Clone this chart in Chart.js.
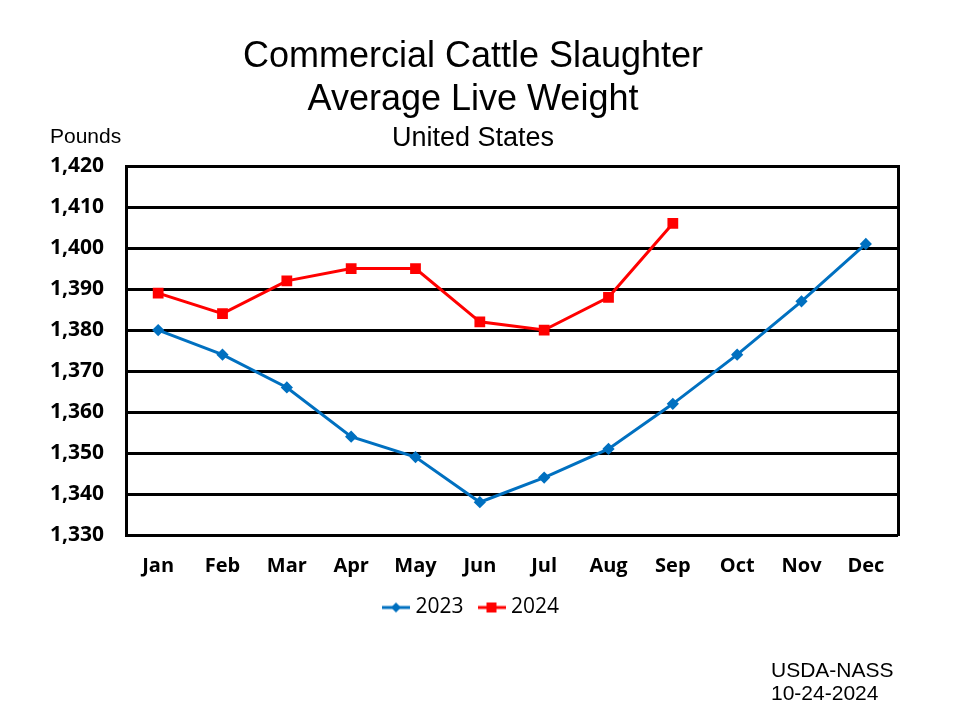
<!DOCTYPE html>
<html>
<head>
<meta charset="utf-8">
<script src="https://cdn.jsdelivr.net/npm/chart.js@4"></script>
<style>
  html, body { margin: 0; padding: 0; background: #fff; }
  #wrap { width: 960px; height: 720px; }
</style>
</head>
<body>
<div id="wrap"><canvas id="myChart" width="960" height="720"></canvas></div>
<script>
const months = ['Jan', 'Feb', 'Mar', 'Apr', 'May', 'Jun', 'Jul', 'Aug', 'Sep', 'Oct', 'Nov', 'Dec'];
const weights2023 = [1380, 1374, 1366, 1354, 1349, 1338, 1344, 1351, 1362, 1374, 1387, 1401];
const weights2024 = [1389, 1384, 1392, 1395, 1395, 1382, 1380, 1388, 1406];
const yMin = 1330;
const yMax = 1420;
const yStep = 10;

const blue = '#0070C0';
const red = '#FF0000';

// Маленькая картинка для легенды: линия с маркером посередине.
function legendIcon(color, marker) {
    const c = document.createElement('canvas');
    c.width = 28;
    c.height = 14;
    const g = c.getContext('2d');
    g.strokeStyle = color;
    g.lineWidth = 3;
    g.beginPath();
    g.moveTo(0, 7);
    g.lineTo(28, 7);
    g.stroke();
    g.fillStyle = color;
    if (marker === 'rect') {
        g.fillRect(9, 2, 10, 10);
    } else {
        g.beginPath();
        g.moveTo(14, 2);
        g.lineTo(19, 7);
        g.lineTo(14, 12);
        g.lineTo(9, 7);
        g.closePath();
        g.fill();
    }
    return c;
}

// Подписи "Pounds" и источник внизу справа.
const extraText = {
    id: 'extraText',
    afterDraw(chart) {
        const ctx = chart.ctx;
        ctx.save();
        ctx.fillStyle = '#000';
        ctx.textBaseline = 'middle';
        ctx.textAlign = 'left';
        ctx.font = '21px "Liberation Sans", Arial, sans-serif';
        ctx.fillText('Pounds', 50, 137);
        ctx.fillText('USDA-NASS', 771, 671);
        ctx.fillText('10-24-2024', 771, 694);
        ctx.restore();
    }
};

const ctx = document.getElementById('myChart');
const config = {
    type: 'line',
    data: {
        labels: months,
        datasets: [{
            label: '2023',
            data: weights2023,
            borderColor: blue,
            backgroundColor: blue,
            borderWidth: 3,
            pointStyle: 'rectRot',
            pointRadius: 4,
            pointHoverRadius: 4,
            tension: 0
        }, {
            label: '2024',
            data: weights2024,
            borderColor: red,
            backgroundColor: red,
            borderWidth: 3,
            pointStyle: 'rect',
            pointRadius: 5.5,
            pointHoverRadius: 5.5,
            tension: 0
        }]
    },
    options: {
        responsive: false,
        animation: false,
        devicePixelRatio: 1,
        layout: { padding: { left: 48, right: 62, top: 0, bottom: 92 } },
        plugins: {
            title: {
                display: true,
                text: ['Commercial Cattle Slaughter', 'Average Live Weight'],
                color: '#000',
                font: { family: '"Liberation Sans", Arial, sans-serif', size: 36, weight: 'normal', lineHeight: 1.2 },
                padding: { top: 35, bottom: 0 }
            },
            subtitle: {
                display: true,
                text: 'United States',
                color: '#000',
                font: { family: '"Liberation Sans", Arial, sans-serif', size: 27, weight: 'normal', lineHeight: 1.1 },
                padding: { top: 2, bottom: 13 }
            },
            legend: {
                position: 'bottom',
                labels: {
                    color: '#000',
                    font: { family: '"Open Sans", sans-serif', size: 21 },
                    usePointStyle: true,
                    pointStyleWidth: 18,
                    padding: 19,
                    generateLabels(chart) {
                        return chart.data.datasets.map((ds, i) => ({
                            text: ds.label,
                            datasetIndex: i,
                            fillStyle: ds.borderColor,
                            strokeStyle: ds.borderColor,
                            fontColor: '#000',
                            lineWidth: 0,
                            pointStyle: legendIcon(ds.borderColor, ds.pointStyle)
                        }));
                    }
                }
            },
            tooltip: { enabled: false }
        },
        scales: {
            x: {
                offset: true,
                grid: { display: false, drawTicks: false },
                border: { display: false },
                ticks: {
                    color: '#000',
                    font: { family: '"Open Sans", sans-serif', size: 20, weight: 'bold' },
                    padding: 19,
                    maxRotation: 0
                },
                afterFit(scale) { scale.height = 43; }
            },
            y: {
                min: yMin,
                max: yMax,
                grid: { color: '#000', lineWidth: 3, drawTicks: false },
                border: { display: true, color: '#000', width: 3 },
                ticks: {
                    stepSize: yStep,
                    color: '#000',
                    font: { family: '"Open Sans", sans-serif', size: 21, weight: 'bold' },
                    padding: 22,
                    callback: v => v.toLocaleString('en-US')
                },
                afterFit(scale) { scale.width = 78; }
            },
            y1: {
                position: 'right',
                min: yMin,
                max: yMax,
                grid: { display: false, drawTicks: false },
                border: { display: true, color: '#000', width: 3 },
                ticks: { display: false },
                afterFit(scale) { scale.width = 0; }
            }
        }
    },
    plugins: [extraText]
};

let chart = new Chart(ctx, config);
</script>
</body>
</html>
